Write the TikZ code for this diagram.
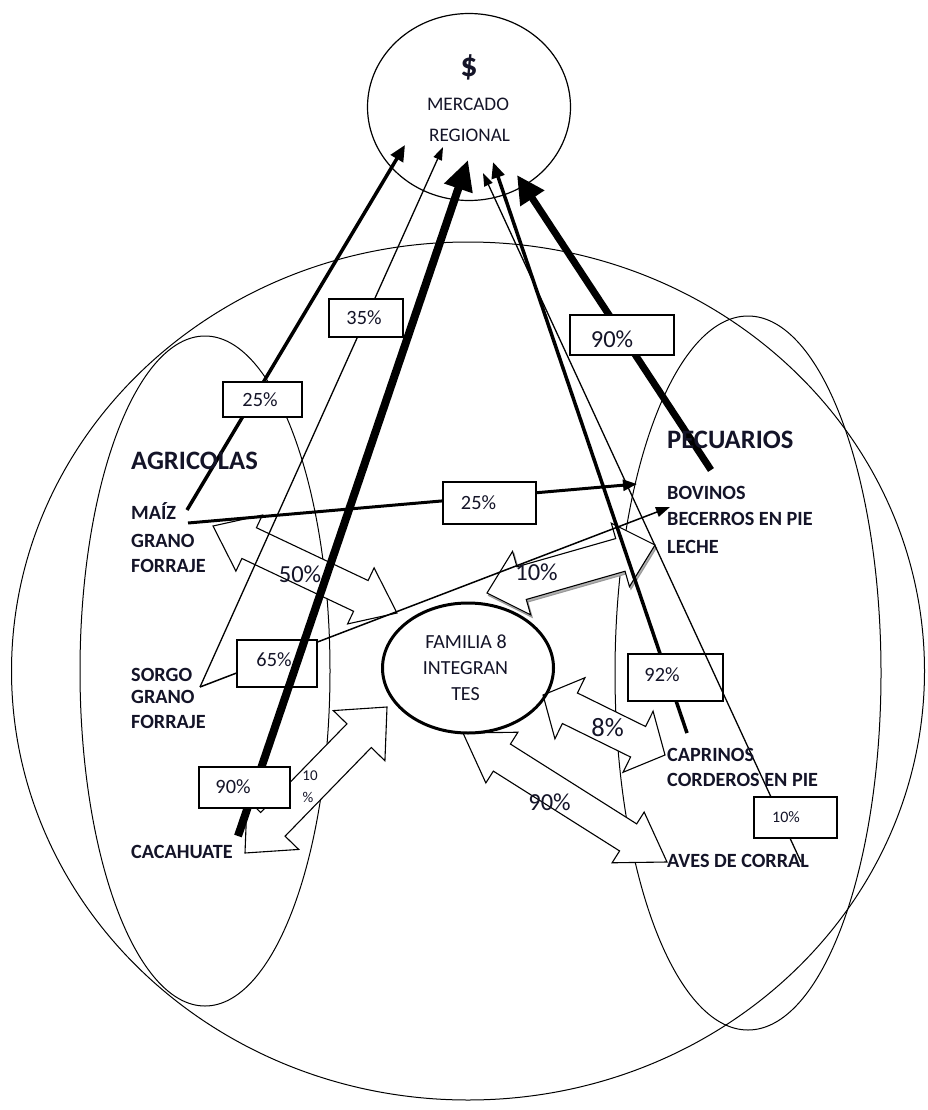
\documentclass[tikz,border=0pt]{standalone}
\usepackage{fontspec}
\setmainfont{Carlito}
\usetikzlibrary{arrows.meta,calc,shapes.geometric}
\definecolor{ink}{RGB}{20,20,40}
\newcommand\dblarrow[6][]{%
  \draw[blockarrow,#1]
    (#2)
    -- ($($(#2)!#6!(#3)$)!#5!90:(#3)$)
    -- ($($(#2)!#6!(#3)$)!#4!90:(#3)$)
    -- ($($(#3)!#6!(#2)$)!#4!-90:(#2)$)
    -- ($($(#3)!#6!(#2)$)!#5!-90:(#2)$)
    -- (#3)
    -- ($($(#3)!#6!(#2)$)!#5!90:(#2)$)
    -- ($($(#3)!#6!(#2)$)!#4!90:(#2)$)
    -- ($($(#2)!#6!(#3)$)!#4!-90:(#3)$)
    -- ($($(#2)!#6!(#3)$)!#5!-90:(#3)$)
    -- cycle;}
\tikzset{
 lbl/.style={font=\bfseries\fontsize{20.2}{23}\selectfont, anchor=base west, inner sep=0pt, text=ink},
 grouphead/.style={font=\bfseries\fontsize{26.6}{29}\selectfont, anchor=base west, inner sep=0pt, text=ink},
 pct/.style={font=\fontsize{20.3}{23}\selectfont, inner sep=0pt, text=ink},
 bigpct/.style={font=\fontsize{24.5}{27}\selectfont, inner sep=0pt, text=ink},
 box/.style={draw, fill=white, line width=1.3pt, inner sep=0pt, rectangle},
 blockarrow/.style={draw, fill=white, line width=1.1pt, line join=miter},
 ring/.style={draw, ellipse, inner sep=0pt, line width=1pt},
 intext/.style={font=\fontsize{19.2}{21}\selectfont, anchor=base, inner sep=0pt, text=ink},
}
\begin{document}
\begin{tikzpicture}[x=1pt,y=-1pt]
\useasboundingbox (0,0) rectangle (927,1110);
\fill[white] (0,0) rectangle (927,1110);

% enclosing ellipses
\node[ring, minimum width=913pt, minimum height=858pt] (outer) at (468,671) {};
\node[ring, minimum width=250pt, minimum height=670pt] (agri) at (205,671) {};
\node[ring, minimum width=266pt, minimum height=714pt] (pecu) at (748,673) {};
\node[ring, line width=1.2pt, minimum width=203pt, minimum height=187pt] (merc) at (469,107) {};

% block arrows (white, outlined)
\coordinate (a50s) at (213,526); \coordinate (a50e) at (397,613);
\dblarrow{a50s}{a50e}{17pt}{31pt}{40pt}
\coordinate (a10s) at (487,593); \coordinate (a10e) at (655,545);
\coordinate (a10ss) at ($(a10s)+(1.5,2.5)$); \coordinate (a10es) at ($(a10e)+(1.5,2.5)$);
\dblarrow[fill=gray!60, draw=gray!80]{a10ss}{a10es}{17pt}{33pt}{36pt}
\dblarrow{a10s}{a10e}{17pt}{33pt}{36pt}
\coordinate (a8s) at (543,695); \coordinate (a8e) at (665,755);
\dblarrow{a8s}{a8e}{17pt}{34pt}{30pt}
\coordinate (a90s) at (463,733); \coordinate (a90e) at (667,862);
\dblarrow{a90s}{a90e}{16pt}{30pt}{46pt}
\coordinate (a10ls) at (245,853); \coordinate (a10le) at (387,707);
\dblarrow{a10ls}{a10le}{17pt}{36pt}{40pt}

\node[ring, line width=3pt, minimum width=171pt, minimum height=130pt] (fam) at (468,668) {};

% connector end points
\coordinate (pA) at (187,510); \coordinate (tA) at (405,145);
\coordinate (pB) at (200,687); \coordinate (tB) at (443,147);
\coordinate (pC) at (238,836); \coordinate (tC) at (468,160);
\coordinate (pD) at (687,733); \coordinate (tD) at (493,162);
\coordinate (pE) at (711,470); \coordinate (tE) at (517,175);
\coordinate (pF) at (801,862); \coordinate (tF) at (483,173);
\coordinate (pG) at (188,523); \coordinate (tG) at (637,484);
\coordinate (tH) at (670,507);

% lines under boxes
\draw[line width=3.5pt, -{Triangle[length=16pt,width=14pt]}] (pA) -- (tA);
\draw[line width=1.3pt, -{Triangle[length=13pt,width=9pt]}] (pB) -- (tB);
\draw[line width=3pt, -{Triangle[length=14pt,width=11pt]}] (pG) -- (tG);
\draw[line width=1.5pt, -{Triangle[length=14pt,width=10pt]}] (pB) -- (tH);
\draw[line width=3.5pt, -{Triangle[length=16pt,width=13pt]}] (pD) -- (tD);
\draw[line width=7pt, -{Triangle[length=28pt,width=27pt]}] (pE) -- (tE);

% boxes
\node[box, minimum width=79pt, minimum height=35pt] (b25u) at (262.5,399.5) {};
\node[box, minimum width=74pt, minimum height=38pt] (b35) at (366,318) {};
\node[box, minimum width=104pt, minimum height=40pt] (b90u) at (622,335) {};
\node[box, minimum width=93pt, minimum height=42pt] (b25m) at (489.5,503) {};
\node[box, minimum width=80pt, minimum height=47pt] (b65) at (277,663.5) {};
\node[box, minimum width=95pt, minimum height=47pt] (b92) at (675.5,677.5) {};

\draw[line width=8pt, -{Triangle[length=30pt,width=28pt]}] (pC) -- (tC);
\node[box, minimum width=91pt, minimum height=41pt] (b90l) at (244.5,787.5) {};
\draw[line width=1.3pt, -{Triangle[length=13pt,width=9pt]}] (pF) -- (tF);
\node[box, minimum width=83pt, minimum height=41pt] (b10r) at (795.5,817.5) {};

% percentages
\node[pct] (t25u) at (260,400) {25\%};
\node[pct] (t35) at (364,318) {35\%};
\node[bigpct] (t90u) at (612,339) {90\%};
\node[pct] (t25m) at (478.5,503) {25\%};
\node[pct] (t65) at (274,660) {65\%};
\node[pct] (t92) at (662,675) {92\%};
\node[pct, font=\fontsize{16}{18}\selectfont] (t10r) at (786,817) {10\%};
\node[pct] (t90l) at (233,787) {90\%};
\node[bigpct] (t50) at (300,574.5) {50\%};
\node[bigpct] (t10u) at (536.5,572.5) {10\%};
\node[bigpct, font=\fontsize{26.5}{29}\selectfont] (t8) at (607.5,728) {8\%};
\node[bigpct] (t90b) at (549.5,802.5) {90\%};
\node[pct, font=\fontsize{15}{17}\selectfont] (t10a) at (310,776) {10};
\node[pct, font=\fontsize{15}{17}\selectfont] (t10b) at (308,797) {\%};

% market text
\node[font=\bfseries\fontsize{34}{36}\selectfont, text=ink, inner sep=0pt] (dollar) at (469,67) {\$};
\node[intext] (mer1) at (468,111) {MERCADO};
\node[intext] (mer2) at (469.5,142) {REGIONAL};

% family text
\node[intext, font=\fontsize{20}{22}\selectfont] (f1) at (466,648) {FAMILIA 8};
\node[intext, font=\fontsize{20}{22}\selectfont] (f2) at (465.5,674) {INTEGRAN};
\node[intext, font=\fontsize{20}{22}\selectfont] (f3) at (465.5,700) {TES};

% left labels
\node[grouphead] (agr) at (131,469) {AGRICOLAS};
\node[lbl] (maiz) at (131,519) {MAÍZ};
\node[lbl] (gr1) at (131,547) {GRANO};
\node[lbl] (fo1) at (131,572) {FORRAJE};
\node[lbl] (sorgo) at (131,681) {SORGO};
\node[lbl] (gr2) at (131,703) {GRANO};
\node[lbl] (fo2) at (131,728) {FORRAJE};
\node[lbl] (cac) at (131,858) {CACAHUATE};

% right labels
\node[grouphead] (pec) at (667,448) {PECUARIOS};
\node[lbl] (bov) at (667,499) {BOVINOS};
\node[lbl] (bec) at (667,525) {BECERROS EN PIE};
\node[lbl] (lec) at (667,553) {LECHE};
\node[lbl] (cap) at (667,761) {CAPRINOS};
\node[lbl] (cor) at (667,786) {CORDEROS EN PIE};
\node[lbl] (ave) at (667,867) {AVES DE CORRAL};
\end{tikzpicture}
\end{document}
